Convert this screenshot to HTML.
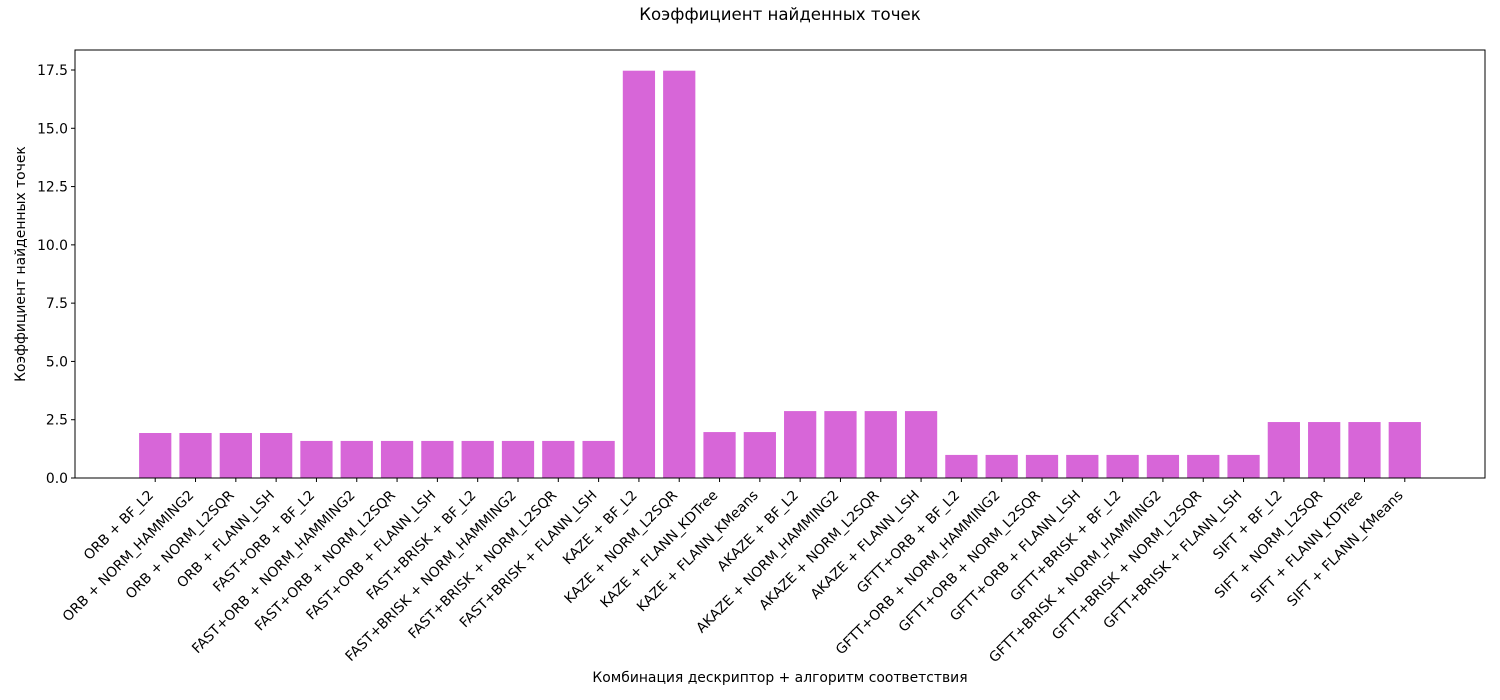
<!DOCTYPE html>
<html><head><meta charset="utf-8"><style>body{margin:0;background:#fff}svg{display:block;font-family:"DejaVu Sans","Liberation Sans",sans-serif}</style></head>
<body>
<svg id="chart" width="1500" height="700">
<text x="780" y="20" text-anchor="middle" font-size="16.6">Коэффициент найденных точек</text>
<text x="780" y="682" text-anchor="middle" font-size="13.9">Комбинация дескриптор + алгоритм соответствия</text>
<text transform="translate(25,264) rotate(-90)" text-anchor="middle" font-size="13.9">Коэффициент найденных точек</text>
<g id="bars"></g><g id="axes"></g>
</svg>
<script>
const categories=["ORB + BF_L2","ORB + NORM_HAMMING2","ORB + NORM_L2SQR","ORB + FLANN_LSH","FAST+ORB + BF_L2","FAST+ORB + NORM_HAMMING2","FAST+ORB + NORM_L2SQR","FAST+ORB + FLANN_LSH","FAST+BRISK + BF_L2","FAST+BRISK + NORM_HAMMING2","FAST+BRISK + NORM_L2SQR","FAST+BRISK + FLANN_LSH","KAZE + BF_L2","KAZE + NORM_L2SQR","KAZE + FLANN_KDTree","KAZE + FLANN_KMeans","AKAZE + BF_L2","AKAZE + NORM_HAMMING2","AKAZE + NORM_L2SQR","AKAZE + FLANN_LSH","GFTT+ORB + BF_L2","GFTT+ORB + NORM_HAMMING2","GFTT+ORB + NORM_L2SQR","GFTT+ORB + FLANN_LSH","GFTT+BRISK + BF_L2","GFTT+BRISK + NORM_HAMMING2","GFTT+BRISK + NORM_L2SQR","GFTT+BRISK + FLANN_LSH","SIFT + BF_L2","SIFT + NORM_L2SQR","SIFT + FLANN_KDTree","SIFT + FLANN_KMeans"];
const values=[1.93,1.93,1.93,1.93,1.59,1.59,1.59,1.59,1.59,1.59,1.59,1.59,17.47,17.47,1.97,1.97,2.87,2.87,2.87,2.87,0.99,0.99,0.99,0.99,0.99,0.99,0.99,0.99,2.4,2.4,2.4,2.4];
const yTicks=[0,2.5,5,7.5,10,12.5,15,17.5];
const NS="http://www.w3.org/2000/svg";
const L=75,R=1485,T=50,B=478;
const n=categories.length;
const xmin=-0.4-(n-0.2)*0.05, xmax=n-1+0.4+(n-0.2)*0.05;
const xs=v=>L+(v-xmin)/(xmax-xmin)*(R-L);
const ys=v=>B-v*(408/17.5);
const bars=document.getElementById('bars'),axes=document.getElementById('axes');
function mk(t,a,p){const e=document.createElementNS(NS,t);for(const k in a)e.setAttribute(k,a[k]);p.appendChild(e);return e;}
values.forEach((v,i)=>{
 const r=mk('rect',{x:xs(i-0.4),y:ys(v),width:xs(0.8)-xs(0),height:B-ys(v),fill:'#d766d8'},bars);
 
 
});
const f=mk('rect',{x:L,y:T,width:R-L,height:B-T,fill:'none',stroke:'#000','stroke-width':1},axes);


yTicks.forEach(t=>{
 const y=ys(t);
 mk('line',{x1:L-4,x2:L,y1:y,y2:y,stroke:'#000'},axes);
 const tx=mk('text',{x:L-7,y:y+5,'text-anchor':'end','font-size':13.9},axes);
 tx.textContent=t.toFixed(1);
 
 
});
categories.forEach((c,i)=>{
 const x=xs(i);
 mk('line',{x1:x,x2:x,y1:B,y2:B+4,stroke:'#000'},axes);
 const tx=mk('text',{x:x-1,y:496,'text-anchor':'end','font-size':13.9,transform:`rotate(-45 ${x-1} 496)`},axes);
 tx.textContent=c;
 
 
});
</script>
</body></html>
